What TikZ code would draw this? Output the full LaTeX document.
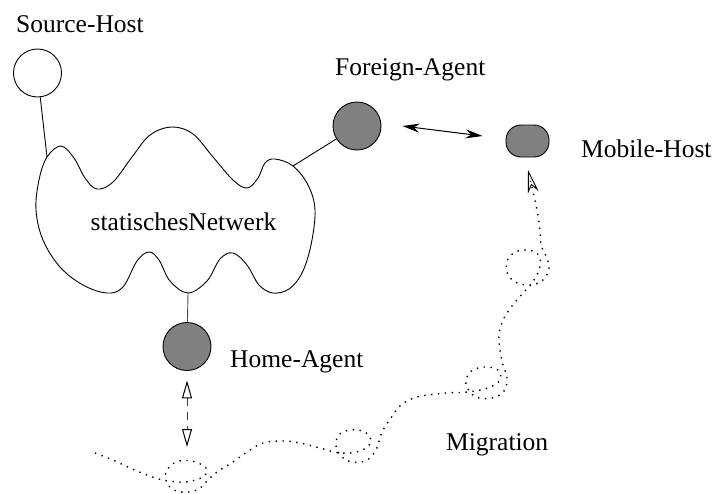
\documentclass[tikz,border=0pt]{standalone}
\usepackage{fontspec}
\setmainfont{Liberation Serif}
\usetikzlibrary{arrows.meta}
\begin{document}
\begin{tikzpicture}[x=1pt,y=-1pt,
  lbl/.style={font=\fontsize{25.5}{30}\selectfont, inner sep=0pt},
  host/.style={circle, draw, line width=0.9pt, minimum size=48pt, inner sep=0pt},
  agent/.style={host, fill=black!50},
  mobile/.style={draw, fill=black!50, line width=0.9pt, rounded corners=15pt, minimum width=43pt, minimum height=32pt, inner sep=0pt},
  link/.style={line width=0.9pt},
  trail/.style={line width=1.4pt, dash pattern=on 1.4pt off 5.5pt},
  bidir/.style={line width=1pt, {Stealth[length=17pt,width=9pt]}-{Stealth[length=17pt,width=9pt]}},
  hdash/.style={line width=1pt, draw=black!75, dash pattern=on 8pt off 6pt,
     {Triangle[open,length=18pt,width=10pt,black]}-{Triangle[open,length=18pt,width=10pt,black]}},
]
\useasboundingbox (0,0) rectangle (714,493);

% network cloud
\draw[link] plot[smooth cycle, tension=0.6] coordinates {
 (47,157) (61,146) (74,158) (85,178) (97,189) (113,182) (132,157) (150,135)
 (172,127) (193,134) (213,157) (233,180) (247,188) (258,178) (265,163) (275,159)
 (293,166) (308,185) (315,210) (311,245) (302,273) (289,289) (273,293) (259,285)
 (247,265) (233,253) (220,259) (207,281) (188,293) (170,281) (159,260) (149,252)
 (137,261) (123,287) (107,293) (83,285) (60,267) (43,240) (36,210) (39,180)};
\coordinate (srcpt) at (47,157);
\coordinate (fapt) at (293,166);
\coordinate (hapt) at (188,293);
\node[lbl, anchor=base] (net) at (183.5,230) {statischesNetwerk};

% hosts and agents
\node[host] (sh) at (37.5,73) {};
\node[agent] (fa) at (357,126) {};
\node[agent] (ha) at (187,346.5) {};
\node[mobile] (mh) at (527.5,141) {};

\node[lbl, anchor=base west] (shl) at (16,32) {Source-Host};
\node[lbl, anchor=base west] (fal) at (335,75) {Foreign-Agent};
\node[lbl, anchor=base west] (mhl) at (581,157) {Mobile-Host};
\node[lbl, anchor=base west] (hal) at (230,367) {Home-Agent};
\node[lbl, anchor=base west] (mig) at (446,450) {Migration};

% links
\draw[link] (sh) -- (srcpt);
\draw[link] (fa) -- (fapt);
\draw[link, draw=black!70] (hapt) -- (ha);

\draw[bidir] ([xshift=21pt]fa.east) -- ([shift={(-23pt,5pt)}]mh.west);

\coordinate (hb) at (187,447);
\draw[hdash, shorten <=9.5pt] (ha) -- (hb);

% migration trail
\coordinate (mtip) at (528,170);
\draw[trail, -{Stealth[open,length=23pt,width=11pt,line width=0.9pt]}] plot[smooth, tension=0.6] coordinates {
 (95,453) (113,460) (130,468) (147,475) (163,480) (185,482) (203,477) (206,468)
 (192,461) (176,462) (166,472) (168,485) (180,492) (197,490) (207,481) (217,472)
 (233,462) (247,452) (263,443) (283,441) (300,443) (320,448) (340,453) (360,451)
 (371,442) (365,432) (350,430) (338,436) (337,450) (348,461) (365,461) (376,450)
 (382,432) (393,415) (401,405) (417,397) (446,393) (468,392) (488,388) (500,380)
 (498,370) (484,367) (470,372) (466,385) (476,397) (492,398) (504,391) (507,378)
 (503,365) (500,350) (499,335) (503,320) (512,306) (523,293) (532,283) (539,270)
 (540,258) (533,251) (518,251) (508,259) (507,272) (515,282) (530,285) (543,280)
 (549,268) (546,256) (541,245) (540,232) (537,210) (mtip)};
\end{tikzpicture}
\end{document}
